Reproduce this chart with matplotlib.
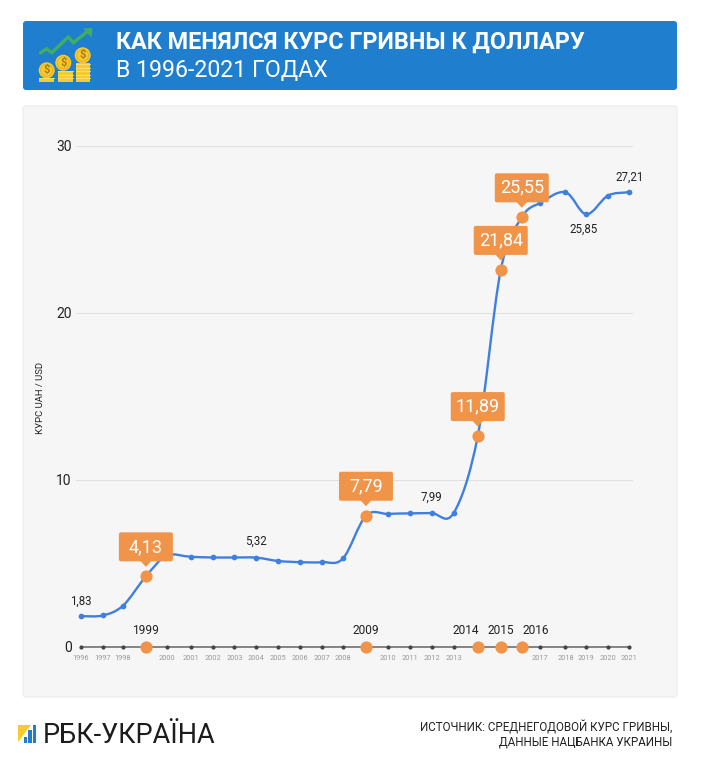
import numpy as np
import matplotlib
matplotlib.use("Agg")
import matplotlib.pyplot as plt
from matplotlib.path import Path
from matplotlib.patches import PathPatch, FancyBboxPatch, Polygon, Rectangle, Circle
from matplotlib.transforms import IdentityTransform, ScaledTranslation

plt.rcParams['font.family'] = ['Roboto', 'DejaVu Sans']

# ---------- data ----------
years = [1996, 1997, 1998, 1999, 2000, 2001, 2002, 2003, 2004, 2005, 2006, 2007, 2008,
         2009, 2010, 2011, 2012, 2013, 2014, 2015, 2016, 2017, 2018, 2019, 2020, 2021]
rates = [1.81, 1.86, 2.45, 4.2, 5.44, 5.37, 5.33, 5.33, 5.32, 5.12, 5.05, 5.05, 5.27,
         7.83, 7.94, 7.97, 7.99, 7.99, 12.6, 22.55, 25.7, 26.57, 27.2, 25.88, 27.0, 27.21]
highlight_years = [1999, 2009, 2014, 2015, 2016]
callout_labels = {1999: "4,13", 2009: "7,79", 2014: "11,89", 2015: "21,84", 2016: "25,55"}
plain_labels = {1996: "1,83", 2004: "5,32", 2012: "7,99", 2019: "25,85", 2021: "27,21"}
yticks = [0, 10, 20, 30]
title1 = "КАК МЕНЯЛСЯ КУРС ГРИВНЫ К ДОЛЛАРУ"
title2 = "В 1996-2021 ГОДАХ"
ylabel = "КУРС UAH / USD"
source1 = "ИСТОЧНИК: СРЕДНЕГОДОВОЙ КУРС ГРИВНЫ,"
source2 = "ДАННЫЕ НАЦБАНКА УКРАИНЫ"
brand = "РБК-УКРАЇНА"

# hand-spaced axis of the original: small shifts of some years along x (layout only)
x_shift = {1998: -0.08, 1999: -0.04, 2000: -0.09, 2008: -0.05, 2014: 0.10, 2015: 0.15,
           2016: 0.11, 2017: -0.05, 2018: 0.10, 2019: 0.05, 2020: 0.04}


def xpos(y):
    return y + x_shift.get(y, 0)


W, H = 701, 768
BLUE, ORANGE, LINE = "#1f7fce", "#f0944a", "#3f7fe0"
INK = "#222222"

fig = plt.figure(figsize=(W / 100, H / 100), dpi=100, facecolor="white")

# page-level decoration in pixel coordinates (y down)
bg = fig.add_axes([0, 0, 1, 1], zorder=0)
bg.set_xlim(0, W); bg.set_ylim(H, 0); bg.axis("off")


def round_box(ax, x0, y0, x1, y1, r, **kw):
    p = FancyBboxPatch((x0 + r, y0 + r), x1 - x0 - 2 * r, y1 - y0 - 2 * r,
                       boxstyle=f"round,pad={r},rounding_size={r}", **kw)
    ax.add_patch(p)
    return p


round_box(bg, 23, 21, 677, 90, 3, fc=BLUE, ec="none")
round_box(bg, 23, 106, 677, 697, 3, fc="#f6f6f6", ec="#eeeeee", lw=1)
bg.text(116.5, 49, title1, color="white", fontsize=16.8, fontweight="bold", va="baseline", ha="left")
bg.text(116.5, 77, title2, color="white", fontsize=16.65, va="baseline", ha="left")

# header icon
GOLD, GOLD2, GOLD3, GREEN = "#f7cb2e", "#e6ad14", "#fbe07a", "#3fae62"
bg.plot([39.3, 46.7, 51.7, 68.3, 73.3, 87], [53.7, 48.7, 52.7, 37, 42.7, 32], color=GREEN, lw=2.4,
        solid_joinstyle="miter", solid_capstyle="butt")
bg.add_patch(Polygon([[83, 28.5], [92.5, 28], [91.5, 37.5]], fc=GREEN, ec="none"))
for cx, cy, x0, x1, top in [(46.7, 70.3, 39.3, 54, 78), (63.3, 62.7, 57.7, 72.7, 71.3), (82.7, 55.3, 76, 89.5, 62.7)]:
    bg.add_patch(Rectangle((x0, top), x1 - x0, 82 - top, fc=GOLD, ec="none"))
    for yy in np.arange(81.5, top + 1, -3.6):
        bg.plot([x0, x1], [yy - 3.2, yy - 3.2], color=GOLD3, lw=0.6)
    bg.add_patch(Circle((cx, cy), 8, fc=GOLD, ec="none"))
    bg.add_patch(Circle((cx, cy), 6, fc="none", ec=GOLD2, lw=0.6))
    bg.text(cx, cy, "$", color="#a8781a", fontsize=8, ha="center", va="center", fontweight="bold")

# footer logo
bg.add_patch(Polygon([[18, 725], [31, 725], [18, 742]], fc="#f7cb2e", ec="none"))
for x0, x1, top in [(23.5, 27, 736.5), (28, 31.5, 730), (32.5, 36, 725)]:
    bg.add_patch(Rectangle((x0, top), x1 - x0, 743 - top, fc="#1f7fce", ec="none"))
bg.text(43, 743, brand, color="#1c1c1c", fontsize=19.5, ha="left", va="baseline")
bg.text(672, 732, source1, color="#222222", fontsize=8.4, ha="right", va="baseline")
bg.text(672, 745.5, source2, color="#222222", fontsize=8.4, ha="right", va="baseline")

# ---------- chart axes ----------
px_left, px_right, px_top, px_bottom = 76, 633, 145.5, 646.5
ax = fig.add_axes([px_left / W, 1 - px_bottom / H, (px_right - px_left) / W, (px_bottom - px_top) / H],
                  zorder=2)
ax.patch.set_alpha(0)
per_year = (629 - 81) / 25
ax.set_xlim(1996 - (81 - px_left) / per_year, 2021 + (px_right - 629) / per_year)
ax.set_ylim(0, 30)
for s in ax.spines.values():
    s.set_visible(False)
ax.set_yticks(yticks)
ax.set_yticklabels([str(v) for v in yticks], fontsize=10, color=INK)
ax.tick_params(axis="y", length=0, pad=3)
ax.grid(axis="y", color="#e0e0e0", lw=0.7, zorder=0)
ax.set_axisbelow(True)
tick_years = [y for y in years if y not in highlight_years]
ax.set_xticks([xpos(y) for y in tick_years])
ax.set_xticklabels([str(y) for y in tick_years], fontsize=5.3, color="#999999")
ax.tick_params(axis="x", length=0, pad=6)
ax.set_ylabel(ylabel, fontsize=6.8, color=INK)
ax.yaxis.set_label_coords(-0.056, 0.497)

# time line along zero
ax.plot([years[0], years[-1]], [0, 0], color="#707070", lw=1.2, zorder=2, clip_on=False)
ax.plot([xpos(y) for y in tick_years], [0] * len(tick_years), "o", color="#444444", ms=3.0, mew=0,
        zorder=3, clip_on=False)
ax.plot([xpos(y) for y in highlight_years], [0] * len(highlight_years), "o", color=ORANGE, ms=8.8, mew=0,
        zorder=4, clip_on=False)
year_label_dx = {1999: 0, 2009: 0, 2014: -12.5, 2015: 0, 2016: 13.5}
for y in highlight_years:
    ax.annotate(str(y), (xpos(y), 0), xytext=(year_label_dx[y], 16), textcoords="offset pixels",
                ha="center", va="center", fontsize=8.6, color=INK, zorder=5)

# smooth curve through the yearly values
tr = ax.transData
xs, ys = np.array([xpos(y) for y in years], float), np.array(rates, float)
dx = np.gradient(xs)
dy = np.empty_like(ys)
dy[1:-1] = (ys[2:] - ys[:-2]) / 2
dy[0], dy[-1] = ys[1] - ys[0], ys[-1] - ys[-2]
verts, codes = [(xs[0], ys[0])], [Path.MOVETO]
for i in range(len(xs) - 1):
    verts += [(xs[i] + dx[i] / 3, ys[i] + dy[i] / 3),
              (xs[i + 1] - dx[i + 1] / 3, ys[i + 1] - dy[i + 1] / 3),
              (xs[i + 1], ys[i + 1])]
    codes += [Path.CURVE4] * 3
ax.add_patch(PathPatch(Path(verts, codes), fc="none", ec=LINE, lw=1.7, zorder=5, clip_on=False))

lookup = dict(zip(years, rates))
ax.plot([xpos(y) for y in tick_years], [lookup[y] for y in tick_years], "o", color=LINE, ms=4.1, mew=0, zorder=6)
ax.plot([xpos(y) for y in highlight_years], [lookup[y] for y in highlight_years], "o", color=ORANGE, ms=8.8,
        mew=0, zorder=8)

# plain value labels
plain_offset = {1996: (0, 15), 2004: (0, 16), 2012: (0, 16), 2019: (-3, -15), 2021: (1, 15)}
for y, txt in plain_labels.items():
    ax.annotate(txt, (xpos(y), lookup[y]), xytext=plain_offset[y], textcoords="offset pixels",
                ha="center", va="center", fontsize=8.3, color=INK, zorder=7)

# call-outs
for y, txt in callout_labels.items():
    anchor = ScaledTranslation(xpos(y), lookup[y], tr)
    t = IdentityTransform() + anchor
    ax.add_patch(FancyBboxPatch((-25, 17), 50, 25, boxstyle="round,pad=2,rounding_size=2",
                                fc=ORANGE, ec="none", transform=t, zorder=9, clip_on=False))
    ax.add_patch(Polygon([[-6, 16], [6, 16], [0, 9.5]], fc=ORANGE, ec="none", transform=t,
                         zorder=9, clip_on=False))
    ax.annotate(txt, (xpos(y), lookup[y]), xytext=(0, 29.5), textcoords="offset pixels",
                ha="center", va="center", fontsize=13, color="white", zorder=10)

fig.savefig("out.png", dpi=100, facecolor="white")
